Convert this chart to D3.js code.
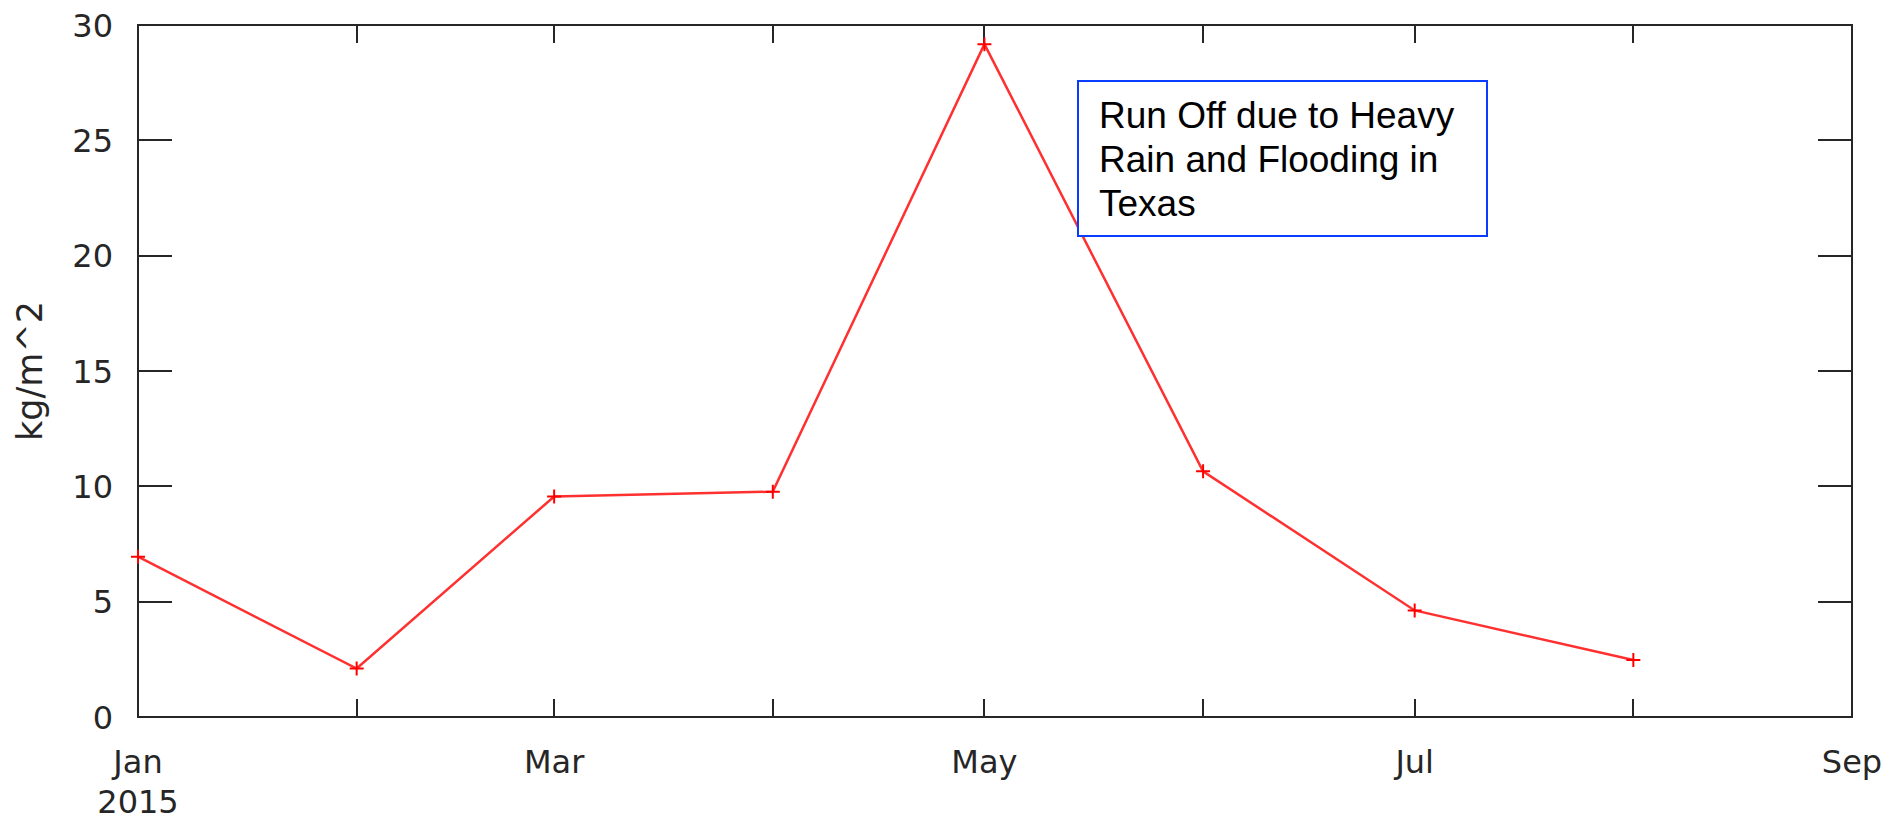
<!DOCTYPE html>
<html>
<head>
<meta charset="utf-8">
<script src="https://cdn.jsdelivr.net/npm/d3@7"></script>
<style>
  body { margin: 0; background: #fff; }
  svg { display: block; }
</style>
</head>
<body>
<svg id="chart"></svg>
<script>
// data
var months = ["2015-01-01", "2015-02-01", "2015-03-01", "2015-04-01",
              "2015-05-01", "2015-06-01", "2015-07-01", "2015-08-01"];
var runoff = [6.95, 2.1, 9.56, 9.77, 29.17, 10.65, 4.62, 2.47];

var yTicks = [0, 5, 10, 15, 20, 25, 30];
var xTickDates = ["2015-01-01", "2015-02-01", "2015-03-01", "2015-04-01", "2015-05-01",
                  "2015-06-01", "2015-07-01", "2015-08-01", "2015-09-01"];
var xTickLabels = ["Jan|2015", "", "Mar", "", "May", "", "Jul", "", "Sep"];
var yLabel = "kg/m^2";
var note = ["Run Off due to Heavy", "Rain and Flooding in", "Texas"];

var W = 1902, H = 820;
var plot = { left: 138, right: 1852, top: 25, bottom: 717 };
var parse = d3.timeParse("%Y-%m-%d");

var svg = d3.select("#chart").attr("width", W).attr("height", H);

var x = d3.scaleTime()
  .domain([parse("2015-01-01"), parse("2015-09-01")])
  .range([plot.left, plot.right]);
var y = d3.scaleLinear().domain([0, 30]).range([plot.bottom, plot.top]);

var axisColor = "#262626";
var tickFont = "'DejaVu Sans', sans-serif";

// frame
svg.append("rect")
  .attr("x", plot.left).attr("y", plot.top)
  .attr("width", plot.right - plot.left).attr("height", plot.bottom - plot.top)
  .attr("fill", "none").attr("stroke", axisColor).attr("stroke-width", 2);

// x ticks (inward, bottom and top)
var xDates = xTickDates.map(parse);
var xt = svg.append("g");
xDates.forEach(function (d) {
  var px = Math.round(x(d));
  xt.append("line").attr("x1", px).attr("x2", px)
    .attr("y1", plot.bottom).attr("y2", plot.bottom - 18)
    .attr("stroke", axisColor).attr("stroke-width", 2);
  xt.append("line").attr("x1", px).attr("x2", px)
    .attr("y1", plot.top).attr("y2", plot.top + 18)
    .attr("stroke", axisColor).attr("stroke-width", 2);
});
xTickLabels.forEach(function (lab, i) {
  if (!lab) return;
  var t = svg.append("text")
    .attr("x", x(xDates[i]))
    .attr("y", 773)
    .attr("text-anchor", "middle")
    .attr("font-family", tickFont).attr("font-size", 32)
    .attr("fill", axisColor);
  lab.split("|").forEach(function (part, j) {
    t.append("tspan").attr("x", x(xDates[i])).attr("dy", j ? 40 : 0).text(part);
  });
});

// y ticks (inward, left and right)
var yt = svg.append("g");
yTicks.forEach(function (v) {
  var py = Math.round(y(v));
  yt.append("line").attr("x1", plot.left).attr("x2", plot.left + 34)
    .attr("y1", py).attr("y2", py)
    .attr("stroke", axisColor).attr("stroke-width", 2);
  yt.append("line").attr("x1", plot.right).attr("x2", plot.right - 34)
    .attr("y1", py).attr("y2", py)
    .attr("stroke", axisColor).attr("stroke-width", 2);
  yt.append("text")
    .attr("x", 113).attr("y", y(v))
    .attr("dy", "0.36em")
    .attr("text-anchor", "end")
    .attr("font-family", tickFont).attr("font-size", 32)
    .attr("fill", axisColor)
    .text(v);
});

// y axis title
svg.append("text")
  .attr("transform", "translate(42,371) rotate(-90)")
  .attr("text-anchor", "middle")
  .attr("font-family", tickFont).attr("font-size", 35)
  .attr("fill", axisColor)
  .text(yLabel);

// series
var pts = months.map(function (m, i) { return { d: parse(m), v: runoff[i] }; });
var line = d3.line().x(function (p) { return x(p.d); }).y(function (p) { return y(p.v); });

svg.append("path")
  .datum(pts)
  .attr("d", line)
  .attr("fill", "none")
  .attr("stroke", "#ff3030")
  .attr("stroke-width", 2.5);

var m = 7;
svg.append("g").selectAll("path.mk")
  .data(pts).enter().append("path")
  .attr("d", function (p) {
    var px = x(p.d), py = y(p.v);
    return "M" + (px - m) + "," + py + "H" + (px + m) + "M" + px + "," + (py - m) + "V" + (py + m);
  })
  .attr("stroke", "#ff0000").attr("stroke-width", 2).attr("fill", "none");

// annotation box
var ann = svg.append("g");
ann.append("rect")
  .attr("x", 1078).attr("y", 81).attr("width", 409).attr("height", 155)
  .attr("fill", "#fff").attr("stroke", "#0a3cff").attr("stroke-width", 2);
note.forEach(function (s, i) {
  ann.append("text")
    .attr("x", 1099).attr("y", 128 + i * 44)
    .attr("font-family", "'Liberation Sans', Arial, sans-serif")
    .attr("font-size", 37)
    .attr("fill", "#000")
    .text(s);
});
</script>
</body>
</html>
